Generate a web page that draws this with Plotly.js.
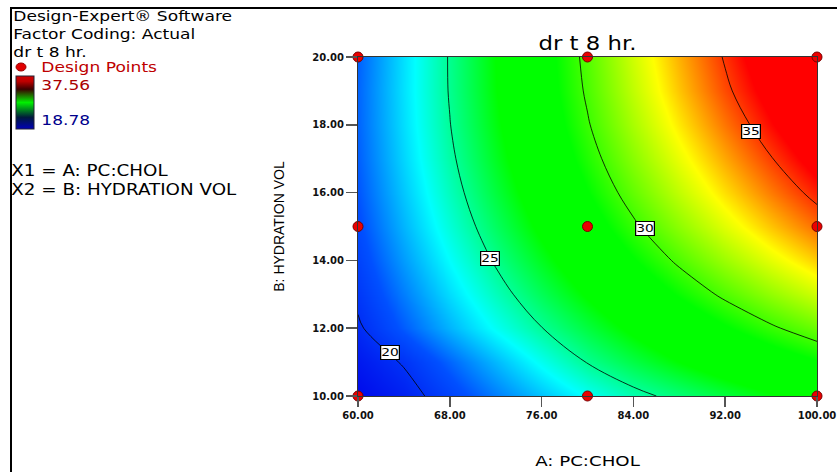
<!DOCTYPE html>
<html>
<head>
<meta charset="utf-8">
<script src="https://cdn.plot.ly/plotly-3.0.1.min.js"></script>
<style>
  html, body { margin: 0; padding: 0; background: #fff; }
  #wrap { position: relative; width: 837px; height: 472px; overflow: hidden; }
  #chart { width: 837px; height: 472px; }
  #frame { position: absolute; left: 10px; top: 7px; right: 0; bottom: 0;
           border-top: 2px solid #000; border-left: 2px solid #000; pointer-events: none; }
</style>
</head>
<body>
<div id="wrap">
  <div id="chart"></div>
  <div id="frame"></div>
</div>
<script>
// ---- Data ----
// Factor A: PC:CHOL (x), Factor B: HYDRATION VOL (y)
const pcChol = [60, 64, 68, 72, 76, 80, 84, 88, 92, 96, 100];
const hydrationVol = [10, 11, 12, 13, 14, 15, 16, 17, 18, 19, 20];
// Response "dr t 8 hr." estimated on the grid (rows = hydrationVol, cols = pcChol)
const row10 = [18.78, 19.50, 20.60, 21.70, 22.75, 23.75, 24.65, 25.35, 26.05, 26.72, 27.31];
const row11 = [19.25, 20.10, 21.35, 22.60, 23.85, 25.05, 25.98, 26.85, 27.65, 28.38, 29.04];
const row12 = [19.83, 21.21, 22.54, 23.79, 24.97, 26.08, 27.12, 28.10, 29.00, 29.84, 30.61];
const row13 = [20.25, 21.73, 23.16, 24.51, 25.79, 27.00, 28.14, 29.22, 30.22, 31.16, 32.02];
const row14 = [20.60, 22.18, 23.69, 25.13, 26.50, 27.81, 29.04, 30.20, 31.30, 32.33, 33.28];
const row15 = [20.88, 22.55, 24.14, 25.66, 27.12, 28.50, 29.82, 31.06, 32.24, 33.35, 34.39];
const row16 = [21.10, 22.83, 24.50, 26.10, 27.62, 29.08, 30.47, 31.79, 33.04, 34.22, 35.33];
const row17 = [21.25, 23.05, 24.78, 26.44, 28.03, 29.55, 31.00, 32.39, 33.70, 34.95, 36.13];
const row18 = [21.33, 23.18, 24.97, 26.68, 28.33, 29.91, 31.45, 32.92, 34.30, 35.60, 36.80];
const row19 = [21.34, 23.24, 25.07, 26.83, 28.53, 30.15, 31.78, 33.35, 34.80, 36.10, 37.28];
const row20 = [21.28, 23.22, 25.09, 26.89, 28.62, 30.29, 32.00, 33.60, 35.10, 36.50, 37.56];
const responseMin = 18.78;
const responseMax = 37.56;
// Contour levels shown with labels
const contourLevels = [20, 25, 30, 35];
// Design points (3x3 factorial)
const designA = [60, 60, 60, 80, 80, 80, 100, 100, 100];
const designB = [10, 15, 20, 10, 15, 20, 10, 15, 20];
// Axis ticks
const xTicks = [60, 68, 76, 84, 92, 100];
const yTicks = [10, 12, 14, 16, 18, 20];

// ---- Layout helpers (pixel -> paper) ----
const L = 358, T = 57, PW = 459, PH = 339;
const px = v => (v - L) / PW;
const py = v => (T + PH - v) / PH;

const zGrid = [row10, row11, row12, row13, row14, row15, row16, row17, row18, row19, row20];
const FONT = 'DejaVu Sans, Arial, sans-serif';

const mainScale = [
  [0, 'rgb(0,10,235)'],
  [0.12, 'rgb(0,80,255)'],
  [0.26, 'rgb(0,255,255)'],
  [0.43, 'rgb(0,255,0)'],
  [0.55, 'rgb(0,255,0)'],
  [0.74, 'rgb(255,255,0)'],
  [0.9, 'rgb(255,0,0)'],
  [1, 'rgb(255,0,0)']
];
const legendScale = [
  [0, 'rgb(0,0,185)'],
  [0.22, 'rgb(0,25,60)'],
  [0.5, 'rgb(0,240,0)'],
  [0.75, 'rgb(60,0,0)'],
  [0.9, 'rgb(190,0,0)'],
  [1, 'rgb(210,0,0)']
];

const traces = [
  {
    type: 'heatmap', x: pcChol, y: hydrationVol, z: zGrid,
    zmin: responseMin, zmax: responseMax, zsmooth: 'best',
    colorscale: mainScale, showscale: false, hoverinfo: 'skip'
  },
  {
    type: 'contour', x: pcChol, y: hydrationVol, z: zGrid,
    contours: { coloring: 'none', start: contourLevels[0], end: contourLevels[contourLevels.length - 1], size: contourLevels[1] - contourLevels[0] },
    line: { color: 'rgba(0,0,0,0.8)', width: 1, smoothing: 1 },
    showscale: false, hoverinfo: 'skip'
  },
  {
    type: 'heatmap', x: [-100, -99], y: [-100, -99], z: [[responseMin, responseMax], [responseMin, responseMax]],
    zmin: responseMin, zmax: responseMax, colorscale: legendScale, hoverinfo: 'skip',
    showscale: true,
    colorbar: {
      xref: 'paper', yref: 'paper',
      x: px(15.5), xanchor: 'left', xpad: 0,
      y: py(102.5), yanchor: 'middle', ypad: 0,
      len: 53, lenmode: 'pixels', thickness: 18, thicknessmode: 'pixels',
      outlinewidth: 1, outlinecolor: '#223', showticklabels: false, ticks: ''
    }
  },
  {
    type: 'scatter', mode: 'markers', x: designA, y: designB, cliponaxis: false,
    marker: { color: 'rgb(235,0,0)', size: 10, line: { color: 'rgb(120,0,0)', width: 1 } },
    hoverinfo: 'x+y'
  }
];

// contour level boxes (placed where the reference shows them)
const labelPos = [[62.75, 11.28], [71.46, 14.07], [84.97, 14.93], [94.27, 17.80]];
const annotations = contourLevels.map((lv, i) => ({
  x: labelPos[i][0], y: labelPos[i][1], xref: 'x', yref: 'y', text: String(lv),
  showarrow: false, bgcolor: '#fff', bordercolor: '#000', borderwidth: 1, borderpad: 0,
  font: { family: FONT, size: 11, color: '#000' }
}));
const nContourLabels = annotations.length;

function leftText(text, xPix, yPix, size, color, yanchor) {
  return { x: px(xPix), y: py(yPix), xref: 'paper', yref: 'paper', text: text,
    xanchor: 'left', yanchor: yanchor || 'middle', align: 'left', showarrow: false,
    font: { family: FONT, size: size, color: color } };
}
annotations.push(
  leftText('Design-Expert® Software<br>Factor Coding: Actual<br>dr t 8 hr.', 11, 6, 14, '#000', 'top'),
  leftText('Design Points', 39, 67, 14, 'rgb(190,0,0)'),
  leftText(responseMax.toFixed(2), 39, 85, 14, 'rgb(170,0,0)'),
  leftText(responseMin.toFixed(2), 39, 120, 14, 'rgb(0,0,140)'),
  leftText('X1 = A: PC:CHOL<br>X2 = B: HYDRATION VOL', 9, 181, 15, '#000')
);

const shapes = [{
  type: 'circle', xref: 'paper', yref: 'paper', xsizemode: 'pixel', ysizemode: 'pixel',
  xanchor: px(21), yanchor: py(67), x0: -5, x1: 5, y0: -4, y1: 4,
  fillcolor: 'rgb(225,0,0)', line: { color: 'rgb(150,0,0)', width: 1 }
}];

const tickFont = { family: FONT, size: 10, color: '#111', weight: 'bold' };
const layout = {
  width: 837, height: 472,
  margin: { l: L, r: 837 - L - PW, t: T, b: 472 - T - PH },
  paper_bgcolor: '#fff', plot_bgcolor: '#fff',
  showlegend: false,
  title: { text: 'dr t 8 hr.', x: 0.5, xref: 'paper', xanchor: 'center',
           y: 1 - 43 / 472, yref: 'container', yanchor: 'middle',
           font: { family: FONT, size: 19, color: '#000' } },
  xaxis: {
    range: [60, 100], tickvals: xTicks, ticktext: xTicks.map(v => v.toFixed(2)),
    ticks: 'outside', ticklen: 10, tickcolor: '#555', tickwidth: 1.5,
    showline: true, linecolor: '#333', linewidth: 1, mirror: true,
    showgrid: false, zeroline: false, tickfont: tickFont,
    title: { text: 'A: PC:CHOL', standoff: 36, font: { family: FONT, size: 14, color: '#000' } }
  },
  yaxis: {
    range: [10, 20], tickvals: yTicks, ticktext: yTicks.map(v => v.toFixed(2)),
    ticks: 'outside', ticklen: 11, tickcolor: '#555', tickwidth: 1.5,
    showline: true, linecolor: '#333', linewidth: 1, mirror: true,
    showgrid: false, zeroline: false, tickfont: tickFont,
    title: { text: 'B: HYDRATION VOL', standoff: 24, font: { family: 'Liberation Sans, Arial, sans-serif', size: 14, color: '#000' } }
  },
  annotations: annotations,
  shapes: shapes
};

// The reference text is drawn horizontally wider than any installed font; widen it a little.
function widen(el, s, mode) {
  if (!el) return;
  const bb = el.getBBox();
  const ax = mode === 'left' ? bb.x : bb.x + bb.width / 2;
  const prev = el.getAttribute('transform') || '';
  el.setAttribute('transform', `translate(${ax},0) scale(${s},1) translate(${-ax},0) ${prev}`);
}

Plotly.newPlot('chart', traces, layout, { displayModeBar: false, staticPlot: true }).then(gd => {
  gd.querySelectorAll('.annotation').forEach(a => {
    const i = +a.getAttribute('data-index');
    if (i >= nContourLabels) widen(a, 1.22, 'left');
    else widen(a, 1.25, 'center');
  });
  widen(gd.querySelector('.g-gtitle text'), 1.2, 'center');
  widen(gd.querySelector('.g-xtitle text'), 1.3, 'center');
});
</script>
</body>
</html>
